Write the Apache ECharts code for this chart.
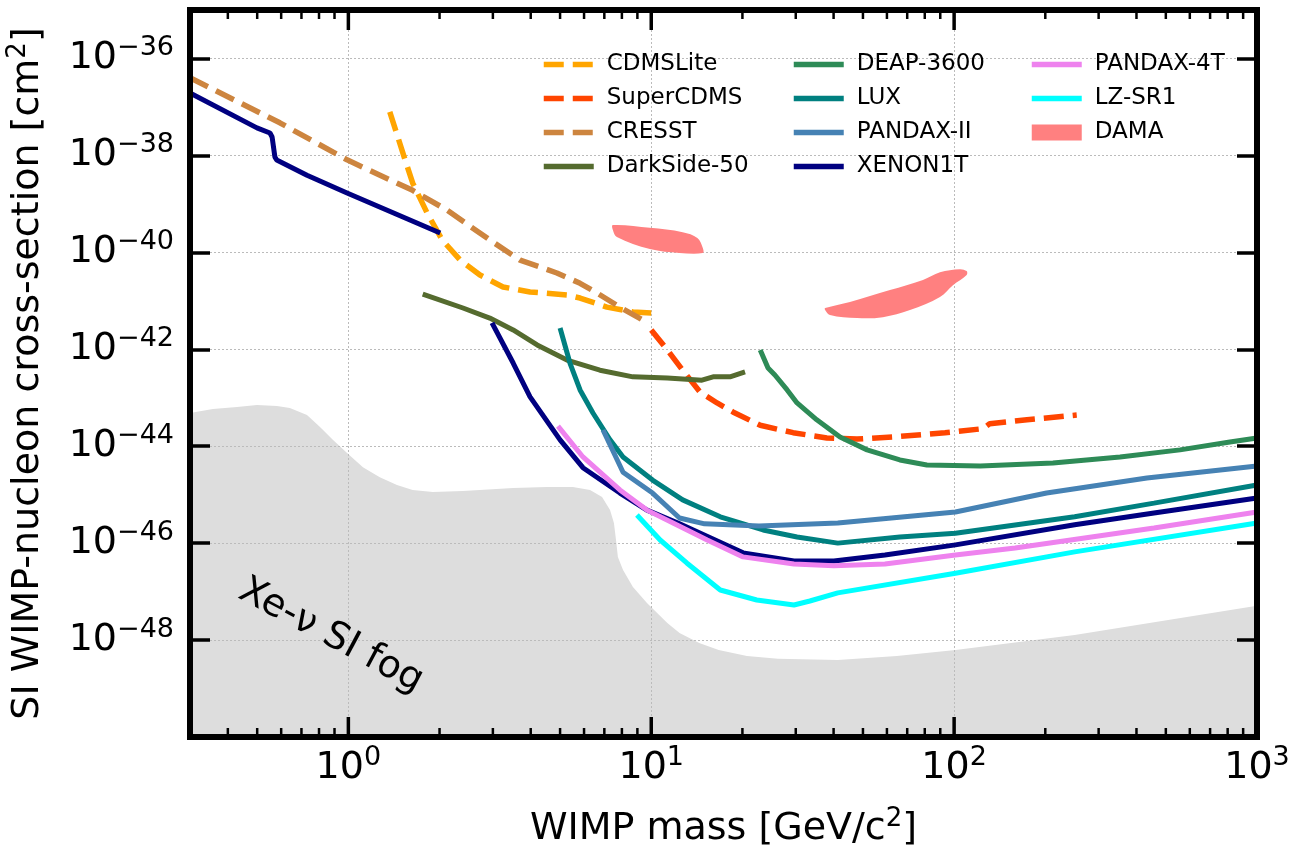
<!DOCTYPE html>
<html><head><meta charset="utf-8">
<script src="https://cdn.jsdelivr.net/npm/echarts@6/dist/echarts.min.js"></script>
<style>html,body{margin:0;padding:0;background:#fff}#c{width:1306px;height:855px}</style>
</head><body><div id="c"></div>
<script>
// ---- data: [WIMP mass (GeV/c^2), SI cross-section (cm^2)] ----
const cdmsLite = [[1.37,7.9e-38],[1.54,8.0e-39],[1.63,2.7e-39],[1.82,6.5e-40],[2.04,1.8e-40],[2.34,6.9e-41],[2.72,3.4e-41],[3.24,1.93e-41],[3.98,1.52e-41],[5.27,1.32e-41],[5.82,1.14e-41],[7.14,7.4e-42],[8.7,5.9e-42],[10,5.6e-42]];
const superCDMS = [[10.0,2.5e-42],[11.3,9.7e-43],[12.7,3.7e-43],[14.5,1.3e-43],[16.5,7.8e-44],[18.6,5.1e-44],[22.9,2.7e-44],[29.4,1.9e-44],[38,1.48e-44],[47.8,1.4e-44],[62.8,1.55e-44],[93.3,1.9e-44],[124.5,2.3e-44],[131,2.9e-44],[174,3.5e-44],[254,4.4e-44]];
const cresst = [[0.3,4.0e-37],[0.594,4.7e-38],[0.99,8.1e-39],[1.63,1.9e-39],[2.12,7.4e-40],[2.93,1.8e-40],[3.69,6.9e-41],[4.88,3.75e-41],[5.82,2.3e-41],[6.62,1.45e-41],[7.88,7.4e-42],[9.68,3.6e-42]];
const darkSide50 = [[1.76,1.38e-41],[2.39,7.1e-42],[2.93,4.4e-42],[3.5,2.5e-42],[4.2,1.23e-42],[5.27,6.0e-43],[6.77,3.7e-43],[8.7,2.7e-43],[11.3,2.56e-43],[14.7,2.3e-43],[16,2.7e-43],[18.2,2.7e-43],[20.4,3.4e-43]];
const deap3600 = [[22.9,9.7e-43],[24.3,4.1e-43],[25.6,2.95e-43],[28.1,1.45e-43],[30.3,7.8e-44],[35.2,3.5e-44],[42,1.55e-44],[51.6,8.4e-45],[66.2,5.2e-45],[81.3,4.1e-45],[122,3.9e-45],[212,4.5e-45],[353,6.0e-45],[557,8.4e-45],[814,1.22e-44],[1000,1.48e-44]];
const lux = [[5.0,2.75e-42],[5.39,5.2e-43],[5.82,1.45e-43],[6.42,4.85e-44],[7.31,1.35e-44],[8.07,6.0e-45],[10.1,2.0e-45],[12.7,7.8e-46],[16.9,3.5e-46],[23.4,1.87e-46],[30.3,1.34e-46],[41.3,1.0e-46],[66.2,1.34e-46],[101,1.6e-46],[250,3.5e-46],[457,6.7e-46],[1000,1.58e-45]];
const pandaxII = [[6.93,2.16e-44],[8.07,2.9e-45],[10.1,1.08e-45],[12.4,3.3e-46],[15,2.5e-46],[22.7,2.26e-46],[41.3,2.6e-46],[101,4.4e-46],[202,1.08e-45],[433,2.2e-45],[1000,3.9e-45]];
const xenon1tLow = [[0.3,1.94e-37],[0.499,3.7e-38],[0.551,2.9e-38],[0.56,2.4e-38],[0.572,9.3e-39],[0.58,8.0e-39],[0.73,3.9e-39],[0.99,1.68e-39],[2.01,2.5e-40]];
const xenon1t = [[2.98,3.5e-42],[3.5,5.2e-43],[3.98,1.04e-43],[5.0,1.35e-44],[5.95,3.6e-45],[7.88,1.08e-45],[9.68,4.8e-46],[12.25,2.6e-46],[20.1,6.3e-47],[29.6,4.3e-47],[40.1,4.3e-47],[59.1,5.7e-47],[101,9.2e-47],[250,2.4e-46],[457,4.2e-46],[1000,8.5e-46]];
const pandax4T = [[4.92,2.6e-44],[5.95,6.0e-45],[7.88,1.25e-45],[9.68,4.8e-46],[11.8,2.6e-46],[15.3,1.16e-46],[20.1,5.2e-47],[29.6,3.7e-47],[40.1,3.4e-47],[59.1,3.7e-47],[101,5.7e-47],[159,7.9e-47],[457,2.06e-46],[1000,4.4e-46]];
const lzSR1 = [[8.97,3.8e-46],[10.7,1.16e-46],[13.1,3.9e-47],[16.9,1.08e-47],[22.3,6.7e-48],[29.6,5.3e-48],[33.4,6.4e-48],[41.3,9.4e-48],[101,2.4e-47],[250,6.6e-47],[1000,2.6e-46]];
const damaBlob1 = [[7.47,3.66e-40],[9.9,3.2e-40],[12.7,2.6e-40],[14.2,1.98e-40],[14.8,1.23e-40],[14.8,9.7e-41],[12.4,9.7e-41],[9.9,1.17e-40],[7.7,2.07e-40],[7.47,2.9e-40]];
const damaBlob2 = [[37.5,6.45e-42],[38.9,5.1e-42],[47.8,4.4e-42],[58.2,4.6e-42],[71.5,6.45e-42],[89.8,1.2e-41],[99.1,2.1e-41],[110,3.4e-41],[110,4.1e-41],[104.5,4.5e-41],[89.8,3.9e-41],[78.9,2.7e-41],[61.4,1.67e-41],[45.3,9.5e-42],[37.5,7.1e-42]];
const xeNuFog = [[0.3,4.85e-44],[0.357,5.86e-44],[0.429,6.45e-44],[0.499,7.1e-44],[0.581,6.76e-44],[0.641,6.15e-44],[0.73,4.4e-44],[0.806,2.5e-44],[0.89,1.34e-44],[0.99,7.2e-45],[1.117,3.7e-45],[1.27,2.3e-45],[1.447,1.58e-45],[1.63,1.25e-45],[1.9,1.14e-45],[2.39,1.19e-45],[3.5,1.37e-45],[4.53,1.44e-45],[5.51,1.44e-45],[6.28,1.25e-45],[6.88,8.95e-46],[7.31,4.8e-46],[7.53,2.6e-46],[7.65,1.16e-46],[7.76,5.2e-47],[8.07,2.8e-47],[8.7,1.25e-47],[9.68,5.8e-48],[11.3,2.25e-48],[12.4,1.4e-48],[14.4,8.7e-49],[16.7,6.25e-49],[20.7,4.7e-49],[26.2,4.1e-49],[41.3,3.9e-49],[64.7,4.7e-49],[101,6.25e-49],[250,1.27e-48],[1000,5.1e-48]];
const fogFloor = [[1000,1e-50],[0.3,1e-50]];
const majorTickMasses = [1,10,100];
const minorTickMasses = [0.4,0.5,0.6,0.7,0.8,0.9,2,3,4,5,6,7,8,9,20,30,40,50,60,70,80,90,200,300,400,500,600,700,800,900];
const fogLabel = 'Xe-\u03bd SI fog';

const FONT = 'DejaVu Sans';
const chart = echarts.init(document.getElementById('c'));
const damaBlobs = [damaBlob1, damaBlob2];

const tickRich = {
  b: {fontFamily: FONT, fontSize: 38, lineHeight: 48, color: '#000'},
  s: {fontFamily: FONT, fontSize: 27, lineHeight: 27, padding: [0,0,21,0], color: '#000'}
};
const titleRich = {
  t: {fontFamily: FONT, fontSize: 38, lineHeight: 46, color: '#000'},
  s: {fontFamily: FONT, fontSize: 26, lineHeight: 26, padding: [0,0,20,0], color: '#000'}
};
function expLabel(v, evenOnly) {
  const l = Math.log10(v), e = Math.round(l);
  if (Math.abs(l - e) > 1e-6) return '';
  if (evenOnly && e % 2 !== 0) return '';
  return '{b|10}{s|' + (e < 0 ? '\u2212' + (-e) : e) + '}';
}
const axisCommon = {
  type: 'log', logBase: 10, z: 1,
  axisLine: {show: false},
  axisTick: {inside: true, length: 20, lineStyle: {color: '#000', width: 3.5}},
  minorTick: {show: false}, minorSplitLine: {show: false},
  splitLine: {show: false}
};
const gridLine = {show: true, lineStyle: {color: '#bbbbbb', width: 1, type: [2, 2]}};

function lineSeries(name, data, color, dashed) {
  return {
    type: 'line', name, data, symbol: 'none', showSymbol: false, z: 2, clip: true,
    color, itemStyle: {color},
    lineStyle: {color, width: dashed ? 5.5 : 5, type: dashed ? [20, 9] : 'solid', cap: 'butt'}
  };
}
function xTickSeries(masses, len, width) {
  return {type: 'custom', z: 1, silent: true, clip: false,
    data: masses.map(m => [m, 1e-45]),
    renderItem: (params, api) => {
      const x = api.coord([api.value(0), api.value(1)])[0];
      const cs = params.coordSys;
      const st = {stroke: '#000', lineWidth: width};
      return {type: 'group', children: [
        {type: 'line', shape: {x1: x, y1: cs.y + cs.height, x2: x, y2: cs.y + cs.height - len}, style: st},
        {type: 'line', shape: {x1: x, y1: cs.y, x2: x, y2: cs.y + len}, style: st}
      ]};
    }};
}

const legendBase = {
  orient: 'vertical', itemWidth: 50, itemHeight: 16, itemGap: 11, padding: 0,
  selectedMode: false,
  itemStyle: {opacity: 0},
  lineStyle: {width: 5.5},
  textStyle: {fontFamily: FONT, fontSize: 23, color: '#000', padding: [0, 0, 0, 8]}
};

chart.setOption({
  backgroundColor: '#fff',
  animation: false,
  grid: {left: 190, top: 10, right: 49, bottom: 118, containLabel: false, outerBoundsMode: 'none',
         show: true, borderWidth: 6, borderColor: '#000', backgroundColor: 'transparent', z: 10},
  legend: [
    Object.assign({}, legendBase, {left: 541, top: 53, data: ['CDMSLite', 'SuperCDMS', 'CRESST', 'DarkSide-50']}),
    Object.assign({}, legendBase, {left: 791, top: 53, data: ['DEAP-3600', 'LUX', 'PANDAX-II', 'XENON1T']}),
    Object.assign({}, legendBase, {left: 1029, top: 53, data: ['PANDAX-4T', 'LZ-SR1', {name: 'DAMA', icon: 'rect', itemStyle: {opacity: 1, color: '#ff8080'}}]})
  ],
  xAxis: [
    Object.assign({}, axisCommon, {
      min: 0.3, max: 1000, position: 'bottom', gridIndex: 0,
      axisTick: {show: false},
      splitLine: gridLine,
      axisLabel: {margin: 7, formatter: v => expLabel(v, false), rich: tickRich},
      name: '{t|WIMP mass [GeV/c}{s|2}{t|]}', nameLocation: 'middle', nameGap: 69, nameMoveOverlap: false,
      nameTextStyle: {rich: titleRich}
    }),
    Object.assign({}, axisCommon, {min: 0.3, max: 1000, position: 'top', gridIndex: 0, axisTick: {show: false}, axisLabel: {show: false}})
  ],
  yAxis: [
    Object.assign({}, axisCommon, {
      min: 1e-50, max: 1e-35, interval: 2, position: 'left', gridIndex: 0,
      splitLine: gridLine,
      axisLabel: {margin: 16, formatter: v => expLabel(v, true), rich: tickRich},
      name: '{t|SI WIMP-nucleon cross-section [cm}{s|2}{t|]}', nameLocation: 'middle', nameGap: 139, nameMoveOverlap: false,
      nameTextStyle: {rich: titleRich}
    }),
    Object.assign({}, axisCommon, {min: 1e-50, max: 1e-35, interval: 2, position: 'right', gridIndex: 0, axisLabel: {show: false}})
  ],
  graphic: [{
    type: 'text', x: 331, y: 636, rotation: -0.49, z: 5,
    style: {text: fogLabel, fontFamily: FONT, fontSize: 38, fill: '#000', align: 'center', verticalAlign: 'middle'}
  }],
  series: [
    {type: 'custom', name: 'fog', silent: true, z: 0,
     data: [xeNuFog[0]],
     renderItem: (params, api) => ({
       type: 'polygon',
       shape: {points: xeNuFog.concat(fogFloor).map(p => api.coord(p))},
       style: {fill: '#dddddd'}
     })},
    lineSeries('CDMSLite', cdmsLite, '#FFA500', true),
    lineSeries('SuperCDMS', superCDMS, '#FF4500', true),
    lineSeries('CRESST', cresst, '#CD853F', true),
    lineSeries('DarkSide-50', darkSide50, '#556B2F', false),
    lineSeries('DEAP-3600', deap3600, '#2E8B57', false),
    lineSeries('LUX', lux, '#008080', false),
    lineSeries('PANDAX-II', pandaxII, '#4682B4', false),
    lineSeries('XENON1T', xenon1tLow, '#000080', false),
    lineSeries('XENON1T', xenon1t, '#000080', false),
    lineSeries('PANDAX-4T', pandax4T, '#EE82EE', false),
    lineSeries('LZ-SR1', lzSR1, '#00FFFF', false),
    {type: 'custom', name: 'DAMA', z: 2, itemStyle: {color: '#ff8080'},
     data: [damaBlob1[0], damaBlob2[0]],
     renderItem: (params, api) => {
       const blob = damaBlobs[params.dataIndex];
       return {type: 'polygon', shape: {points: blob.map(p => api.coord(p)), smooth: 0.35},
               style: {fill: '#ff8080'}};
     }},
    xTickSeries(majorTickMasses, 20, 3.5),
    xTickSeries(minorTickMasses, 9, 2.5)
  ]
});
</script></body></html>
